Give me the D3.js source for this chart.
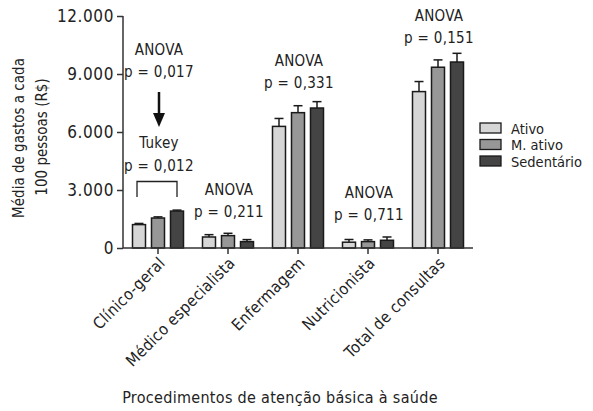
<!DOCTYPE html>
<html>
<head>
<meta charset="utf-8">
<script src="https://cdn.jsdelivr.net/npm/d3@7"></script>
<style>
  body { margin: 0; background: #fff; }
  svg text { font-family: "Liberation Sans Narrow", "DejaVu Sans Condensed", sans-serif; fill: #222; }
  .axis path, .axis line { stroke: #333; stroke-width: 1.5; }
</style>
</head>
<body>
<svg width="593" height="411"></svg>
<script>
// **** data ****
var categories = ['Clínico-geral', 'Médico especialista', 'Enfermagem', 'Nutricionista', 'Total de consultas']
var series = ['Ativo', 'M. ativo', 'Sedentário']
var colors = ['#d6d6d6', '#979797', '#444444']

// means, one array per group (Ativo, M. ativo, Sedentário)
var ativo = [1210, 570, 6290, 300, 8090]
var mAtivo = [1550, 640, 7000, 330, 9350]
var sedentario = [1910, 330, 7240, 400, 9620]
// upper error (SE)
var errAtivo = [60, 120, 410, 140, 520]
var errMAtivo = [60, 120, 360, 90, 380]
var errSedentario = [50, 105, 330, 170, 450]

var yTicks = [0, 3000, 6000, 9000, 12000]
var yTickLabels = ['0', '3.000', '6.000', '9.000', '12.000']

var anovaP = ['p = 0,017', 'p = 0,211', 'p = 0,331', 'p = 0,711', 'p = 0,151']
var anovaY = [77, 217, 88, 220, 43]

var means = [ativo, mAtivo, sedentario]
var errs = [errAtivo, errMAtivo, errSedentario]

var rows = []
for (var s = 0; s < series.length; s++) {
    for (var c = 0; c < categories.length; c++) {
        rows.push({cat: categories[c], ser: series[s], idx: s, v: means[s][c], e: errs[s][c]})
    }
}

// **** scales ****
var svg = d3.select('svg')

var x0 = d3.scaleBand().domain(categories).range([123, 473])
var x1 = d3.scaleBand().domain(series).range([9.5, 60.5]).paddingInner(0.316)
var y = d3.scaleLinear().domain([0, 12000]).range([248, 16])

// **** bars ****
var g = svg.append('g')
g.selectAll('rect')
    .data(rows)
    .enter()
    .append('rect')
    .attr('x', function(d) { return x0(d.cat) + x1(d.ser) })
    .attr('y', function(d) { return y(d.v) })
    .attr('width', x1.bandwidth())
    .attr('height', function(d) { return y(0) - y(d.v) })
    .style('fill', function(d) { return colors[d.idx] })
    .style('stroke', '#1a1a1a')
    .style('stroke-width', 1.5)

// error whiskers (upper only)
g.selectAll('line.err')
    .data(rows)
    .enter()
    .append('line')
    .attr('class', 'err')
    .attr('x1', function(d) { return x0(d.cat) + x1(d.ser) + x1.bandwidth() / 2 })
    .attr('x2', function(d) { return x0(d.cat) + x1(d.ser) + x1.bandwidth() / 2 })
    .attr('y1', function(d) { return y(d.v) })
    .attr('y2', function(d) { return y(d.v + d.e) })
    .style('stroke', '#1a1a1a')
    .style('stroke-width', 1.5)

g.selectAll('line.cap')
    .data(rows)
    .enter()
    .append('line')
    .attr('class', 'cap')
    .attr('x1', function(d) { return x0(d.cat) + x1(d.ser) + x1.bandwidth() / 2 - 4.5 })
    .attr('x2', function(d) { return x0(d.cat) + x1(d.ser) + x1.bandwidth() / 2 + 4.5 })
    .attr('y1', function(d) { return y(d.v + d.e) })
    .attr('y2', function(d) { return y(d.v + d.e) })
    .style('stroke', '#1a1a1a')
    .style('stroke-width', 1.5)

// **** axes ****
svg.append('g').attr('class', 'y axis')
    .attr('transform', 'translate(123,0)')
    .call(d3.axisLeft(y).tickValues(yTicks).tickSize(6).tickPadding(3)
        .tickFormat(function(d, i) { return yTickLabels[i] }))
    .call(function(a) {
        a.select('.domain').attr('d', 'M0,' + y(12000) + 'V' + y(0))
        a.selectAll('text').style('font-size', '17px').style('letter-spacing', '0.6px')
            .attr('font-family', null)
    })

svg.append('g').attr('class', 'x axis')
    .attr('transform', 'translate(0,248)')
    .call(d3.axisBottom(x0).tickSize(6).tickFormat(''))
    .call(function(a) {
        a.select('.domain').attr('d', 'M123,0H473')
    })

svg.selectAll('text.cat')
    .data(categories)
    .enter()
    .append('text')
    .attr('class', 'cat')
    .attr('text-anchor', 'end')
    .attr('transform', function(d) {
        return 'translate(' + (x0(d) + x0.bandwidth() / 2 + 8) + ',264) rotate(-45)'
    })
    .style('font-size', '16px')
    .style('letter-spacing', '0.3px')
    .text(function(d) { return d })

// **** labels ****
svg.append('text')
    .attr('text-anchor', 'middle')
    .attr('transform', 'translate(24,138) rotate(-90)')
    .style('font-size', '15px')
    .text('Média de gastos a cada')
svg.append('text')
    .attr('text-anchor', 'middle')
    .attr('transform', 'translate(47,137) rotate(-90)')
    .style('font-size', '15px')
    .text('100 pessoas (R$)')

svg.append('text')
    .attr('text-anchor', 'middle')
    .attr('x', 280)
    .attr('y', 403)
    .style('font-size', '16px')
    .style('letter-spacing', '0.3px')
    .text('Procedimentos de atenção básica à saúde')

// ANOVA notes
svg.selectAll('text.anova')
    .data(categories)
    .enter()
    .append('text')
    .attr('class', 'anova')
    .attr('text-anchor', 'middle')
    .attr('x', function(d) { return x0(d) + x0.bandwidth() / 2 + 1 })
    .attr('y', function(d, i) { return anovaY[i] - 22 })
    .style('font-size', '15px')
    .style('letter-spacing', '0.3px')
    .text('ANOVA')
svg.selectAll('text.pval')
    .data(categories)
    .enter()
    .append('text')
    .attr('class', 'pval')
    .attr('text-anchor', 'middle')
    .attr('x', function(d) { return x0(d) + x0.bandwidth() / 2 + 1 })
    .attr('y', function(d, i) { return anovaY[i] })
    .style('font-size', '15px')
    .style('letter-spacing', '0.3px')
    .text(function(d, i) { return anovaP[i] })

// arrow + Tukey note on Clínico-geral
var cx = x0(categories[0]) + x0.bandwidth() / 2 + 1
svg.append('line')
    .attr('x1', cx).attr('x2', cx)
    .attr('y1', 92).attr('y2', 115)
    .style('stroke', '#111').style('stroke-width', 2.5)
svg.append('path')
    .attr('d', 'M' + (cx - 6) + ',113L' + (cx + 6) + ',113L' + cx + ',127Z')
    .style('fill', '#111')
svg.append('text')
    .attr('text-anchor', 'middle')
    .attr('x', cx).attr('y', 148)
    .style('font-size', '15px')
    .style('letter-spacing', '0.3px')
    .text('Tukey')
svg.append('text')
    .attr('text-anchor', 'middle')
    .attr('x', cx).attr('y', 171)
    .style('font-size', '15px')
    .style('letter-spacing', '0.3px')
    .text('p = 0,012')
svg.append('path')
    .attr('d', 'M137,197V181.5H177V197')
    .style('fill', 'none').style('stroke', '#222').style('stroke-width', 1.3)

// **** legend ****
var leg = svg.append('g').attr('transform', 'translate(480,120)')
leg.selectAll('rect')
    .data(series)
    .enter()
    .append('rect')
    .attr('x', 0)
    .attr('y', function(d, i) { return i * 16.5 + 3 })
    .attr('width', 21)
    .attr('height', 10)
    .style('fill', function(d, i) { return colors[i] })
    .style('stroke', '#1a1a1a')
    .style('stroke-width', 1.3)
leg.selectAll('text')
    .data(series)
    .enter()
    .append('text')
    .attr('x', 31)
    .attr('y', function(d, i) { return i * 16.5 + 13.5 })
    .style('font-size', '14.5px')
    .text(function(d) { return d })
</script>
</body>
</html>
